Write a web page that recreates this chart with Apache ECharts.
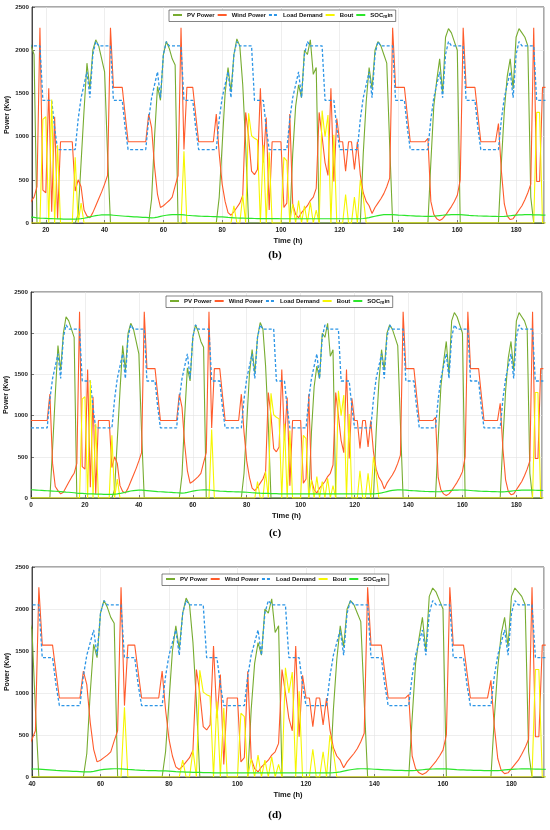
<!DOCTYPE html>
<html>
<head>
<meta charset="utf-8">
<script src="https://cdn.jsdelivr.net/npm/echarts@6/dist/echarts.min.js"></script>
<style>
  html, body { margin: 0; padding: 0; background: #fff; }
  #chart { width: 550px; height: 830px; }
</style>
</head>
<body>
<div id="chart"></div>
<script>
// Hourly values, t = 0..190 h (one row per day)
const loadDemand = [
  850,850,850,850,850,850,850,1200,1450,1600,1750,1450,1950,2100,2050,2050,2050,2050,2050,1420,1420,1420,1420,1100,
  850,850,850,850,850,850,850,1200,1450,1600,1750,1450,1950,2100,2050,2050,2050,2050,2050,1420,1420,1420,1420,1100,
  850,850,850,850,850,850,850,1200,1450,1600,1750,1450,1950,2100,2050,2050,2050,2050,2050,1420,1420,1420,1420,1100,
  850,850,850,850,850,850,850,1200,1450,1600,1750,1450,1950,2100,2050,2050,2050,2050,2050,1420,1420,1420,1420,1100,
  850,850,850,850,850,850,850,1200,1450,1600,1750,1450,1950,2100,2050,2050,2050,2050,2050,1420,1420,1420,1420,1100,
  850,850,850,850,850,850,850,1200,1450,1600,1750,1450,1950,2100,2050,2050,2050,2050,2050,1420,1420,1420,1420,1100,
  850,850,850,850,850,850,850,1200,1450,1600,1750,1450,1950,2100,2050,2050,2050,2050,2050,1420,1420,1420,1420,1100,
  850,850,850,850,850,850,850,1200,1450,1600,1750,1450,1950,2100,2050,2050,2050,2050,2050,1420,1420,1420,1420
];

const pvPower = [
  0,0,0,0,0,0,0,0,600,1250,1850,1550,2000,2200,2150,2050,1950,0,0,0,0,0,0,0,
  0,0,0,0,0,0,0,100,700,1300,1850,1550,2000,2120,2050,1900,1750,800,0,0,0,0,0,0,
  0,0,0,0,0,0,0,0,280,1000,1580,1420,1950,2100,2020,1900,1830,0,0,0,0,0,0,0,
  0,0,0,0,0,0,0,300,900,1500,1800,1520,1950,2130,2050,1600,900,0,0,0,0,0,0,0,
  0,0,0,0,0,0,0,0,800,1350,1600,1450,2000,1950,2120,1720,1800,0,0,0,0,0,0,0,
  0,0,0,0,0,0,0,0,800,1400,1800,1550,2000,2100,2050,1950,1850,900,0,0,0,0,0,0,
  0,0,0,0,0,0,0,700,1350,1650,1900,1500,2150,2250,2200,2100,2000,0,0,0,0,0,0,0,
  0,0,0,0,0,0,0,700,1300,1700,1900,1550,2150,2250,2200,2150,2050,300,0,0,0,0,0
];

const windPower = [
  940,940,940,940,940,940,940,1260,420,140,90,50,70,130,190,250,300,420,2260,380,350,1560,130,1230,
  50,940,940,940,940,940,370,500,420,150,80,60,120,200,280,360,450,550,2260,1570,1570,1570,1570,1250,
  940,940,940,940,940,940,940,1260,1100,650,330,180,200,230,260,300,430,550,2260,850,1570,1570,1570,1250,
  940,940,940,940,940,940,1260,800,450,250,120,90,130,180,230,320,1280,1000,600,560,620,1560,700,1220,
  150,940,940,940,940,180,230,1260,220,100,60,120,160,200,260,300,400,1280,1000,700,550,1560,480,1210,
  940,940,600,940,940,620,940,560,350,250,200,110,180,230,280,340,420,520,2260,1570,1570,1570,1570,1250,
  940,940,940,940,940,940,980,250,100,50,30,50,90,140,190,250,320,500,2260,1570,1570,1570,1570,1250,
  940,940,940,940,940,940,1150,600,220,80,40,50,100,150,200,270,350,450,2260,480,480,1570,1570
];

const bout = [
  0,0,0,0,0,0,0,0,0,0,0,0,0,0,0,0,0,0,0,1200,1230,0,1430,0,
  900,0,0,0,0,0,760,0,230,0,0,0,0,0,0,0,0,0,0,0,0,0,0,0,
  0,0,0,0,0,0,0,0,0,0,0,0,0,0,0,0,0,0,0,830,0,0,0,0,
  0,0,0,0,0,0,0,0,0,0,0,0,200,0,0,320,0,1270,1010,980,960,0,900,0,
  820,0,0,0,0,760,720,0,220,0,260,0,200,0,240,0,150,0,1300,1000,1250,0,1020,0,
  0,0,330,0,0,300,0,500,300,0,0,0,0,0,0,0,0,0,0,0,0,0,0,0,
  0,0,0,0,0,0,0,0,0,0,0,0,0,0,0,0,0,0,0,0,0,0,0,0,
  0,0,0,0,0,0,0,0,0,0,0,0,0,0,0,0,0,0,0,1280,1280,0,0
];

const socMin = [
  100,98,96,94,92,90,88,86,84,82,80,78,75,72,70,67,64,60,57,55,53,51,50,49,
  48,47,46,45,45,45,45,47,50,55,62,70,78,85,90,93,95,95,93,90,87,84,81,78,
  76,74,72,70,68,66,64,62,60,62,68,76,84,90,94,97,98,98,97,94,90,87,84,82,
  80,78,77,76,75,74,73,72,70,67,64,62,60,58,57,56,55,54,53,52,51,50,50,50,
  50,50,50,50,49,49,49,49,49,49,49,49,49,49,49,49,49,49,49,49,49,49,49,49,
  49,49,49,49,49,49,49,49,52,56,62,70,78,86,92,96,98,98,97,95,92,90,88,86,
  84,82,80,79,78,77,76,76,78,82,86,90,93,95,96,97,97,96,94,91,88,86,84,82,
  81,80,79,78,77,76,75,75,77,80,84,88,91,93,95,96,96,96,95,94,93,92,91
];

const yTicks = [0, 500, 1000, 1500, 2000, 2500];

const hours = loadDemand.map((v, i) => i);

const seriesDefs = [
  { name: 'PV Power', values: pvPower, color: '#77AC30', type: 'solid', width: 1.1 },
  { name: 'Wind Power', values: windPower, color: '#FF5B2B', type: 'solid', width: 1.1 },
  { name: 'Load Demand', values: loadDemand, color: '#2B95E6', type: [3, 2], width: 1.3 },
  { name: 'Bout', values: bout, color: '#F6F600', type: 'solid', width: 1.1 },
  { name: 'SOC_min', values: socMin, color: '#2BE62B', type: 'solid', width: 1.2 }
];

// sub-figures (b), (c), (d) show the same run over different time windows
const panels = [
  { label: '(b)', xMin: 15.3, top: 7, height: 216, left: 32, right: 6, legendLeft: 169, legendTop: 10, labelTop: 250, showMin: false },
  { label: '(c)', xMin: 0, top: 292, height: 206, left: 31, right: 8, legendLeft: 166, legendTop: 296, labelTop: 528, showMin: true },
  { label: '(d)', xMin: 40, top: 567, height: 210, left: 32, right: 6, legendLeft: 162, legendTop: 574, labelTop: 810, showMin: true }
];

const font = 'Liberation Sans';
const axisColor = '#262626';

function toPairs(values) {
    return values.map((v, i) => [hours[i], v]);
}

function plainNumber(v) {
    return String(v);
}

const option = {
    animation: false,
    backgroundColor: '#fff',
    grid: [],
    xAxis: [],
    yAxis: [],
    legend: [],
    series: [],
    graphic: []
};

panels.forEach((p, k) => {
    option.grid.push({
        left: p.left, right: p.right, top: p.top, height: p.height,
        containLabel: false, outerBoundsMode: 'none',
        show: true, borderColor: axisColor, borderWidth: 0.8, backgroundColor: '#fff'
    });

    option.xAxis.push({
        type: 'value', gridIndex: k,
        min: p.xMin, max: 189.5, splitNumber: 8,
        name: 'Time (h)', nameLocation: 'middle', nameGap: 14, nameMoveOverlap: false,
        nameTextStyle: { fontSize: 7.5, fontWeight: 'bold', color: '#111', fontFamily: font },
        axisLine: { lineStyle: { color: axisColor, width: 0.8 } },
        axisTick: { inside: true, length: 3, lineStyle: { color: axisColor, width: 0.6 } },
        axisLabel: {
            fontSize: 6.5, fontWeight: 'bold', color: '#222', fontFamily: font, margin: 4,
            showMinLabel: p.showMin, showMaxLabel: false, formatter: plainNumber
        },
        splitLine: { show: true, lineStyle: { color: '#e2e2e2', width: 0.6 } }
    });

    option.yAxis.push({
        type: 'value', gridIndex: k,
        min: yTicks[0], max: yTicks[yTicks.length - 1], interval: yTicks[1] - yTicks[0],
        name: 'Power (Kw)', nameLocation: 'middle', nameGap: 21, nameMoveOverlap: false,
        nameTextStyle: { fontSize: 7, fontWeight: 'bold', color: '#111', fontFamily: font },
        axisLine: { show: true, lineStyle: { color: axisColor, width: 0.8 } },
        axisTick: { show: true, inside: true, length: 3, lineStyle: { color: axisColor, width: 0.6 } },
        axisLabel: { fontSize: 6.2, fontWeight: 'bold', color: '#222', fontFamily: font, margin: 3, formatter: plainNumber },
        splitLine: { show: true, lineStyle: { color: '#e2e2e2', width: 0.6 } }
    });

    option.legend.push({
        left: p.legendLeft, top: p.legendTop,
        orient: 'horizontal',
        data: seriesDefs.map(s => s.name),
        selectedMode: false,
        itemWidth: 9, itemHeight: 6, itemGap: 2,
        itemStyle: { opacity: 0 },
        padding: [2, 3, 2, 3],
        borderColor: '#333', borderWidth: 0.6, borderRadius: 0,
        backgroundColor: '#fff',
        textStyle: {
            fontSize: 6, fontWeight: 'bold', color: '#111', fontFamily: font,
            rich: {
                n: { fontSize: 6, fontWeight: 'bold', color: '#111', fontFamily: font },
                s: { fontSize: 4.6, fontWeight: 'bold', color: '#111', fontFamily: font, padding: [4, 0, 0, 0] }
            }
        },
        formatter: function(name) {
            if (name === 'SOC_min') {
                return '{n|SOC}{s|m}{n|in}';
            }
            return name;
        }
    });

    seriesDefs.forEach(s => {
        option.series.push({
            name: s.name,
            type: 'line',
            xAxisIndex: k, yAxisIndex: k,
            data: toPairs(s.values),
            symbol: 'none',
            clip: true,
            lineStyle: { color: s.color, width: s.width, type: s.type },
            itemStyle: { color: s.color }
        });
    });

    option.graphic.push({
        type: 'text', left: 'center', top: p.labelTop,
        style: { text: p.label, font: 'bold 11px "Liberation Serif"', fill: '#000' }
    });
});

const myChart = echarts.init(document.getElementById('chart'));
myChart.setOption(option);
</script>
</body>
</html>
